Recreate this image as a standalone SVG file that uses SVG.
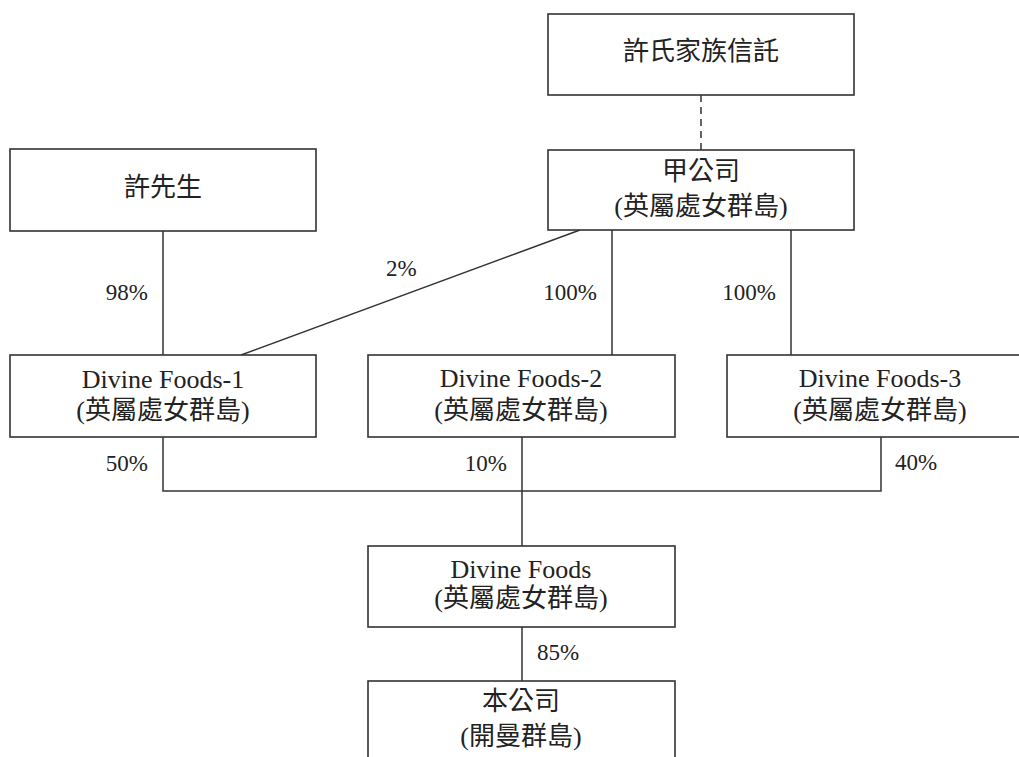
<svg xmlns="http://www.w3.org/2000/svg" width="1019" height="757" viewBox="0 0 1019 757">
<style>
.box{fill:#fff;stroke:#333;stroke-width:1.6}
.ln{fill:none;stroke:#333;stroke-width:1.5}
.dash{stroke-dasharray:7,5}
.t{font-family:"Liberation Serif","Noto Sans CJK TC",serif;font-size:26px;fill:#222;text-anchor:middle}
.p{font-family:"Liberation Serif",serif;font-size:23px;fill:#222}
.e{text-anchor:end}
</style>
<rect width="1019" height="757" fill="#fff"/>
<g id="connectors">
<line class="ln dash" x1="701" y1="95" x2="701" y2="150"/>
<line class="ln" x1="163" y1="231" x2="163" y2="355"/>
<line class="ln" x1="580" y1="230" x2="241" y2="355"/>
<line class="ln" x1="612" y1="230" x2="612" y2="355"/>
<line class="ln" x1="791" y1="230" x2="791" y2="355"/>
<polyline class="ln" points="163,437 163,491 881,491 881,437"/>
<line class="ln" x1="522" y1="437" x2="522" y2="546"/>
<line class="ln" x1="522" y1="627" x2="522" y2="681"/>
<text class="p e" x="148" y="300">98%</text>
<text class="p" x="386" y="276">2%</text>
<text class="p e" x="597" y="300">100%</text>
<text class="p e" x="776" y="300">100%</text>
<text class="p e" x="148" y="471">50%</text>
<text class="p e" x="507" y="471">10%</text>
<text class="p" x="895" y="470">40%</text>
<text class="p" x="537" y="660">85%</text>
</g>
<g id="trust">
<rect class="box" x="548" y="14" width="306" height="81"/>
<text class="t" x="701" y="60">許氏家族信託</text>
</g>
<g id="mrhui">
<rect class="box" x="10" y="149" width="306" height="82"/>
<text class="t" x="163" y="196">許先生</text>
</g>
<g id="companyA">
<rect class="box" x="548" y="150" width="306" height="80"/>
<text class="t" x="701" y="180">甲公司</text>
<text class="t" x="701" y="215">(英屬處女群島)</text>
</g>
<g id="df1">
<rect class="box" x="10" y="355" width="306" height="82"/>
<text class="t" x="163" y="388">Divine Foods-1</text>
<text class="t" x="163" y="419">(英屬處女群島)</text>
</g>
<g id="df2">
<rect class="box" x="368" y="355" width="307" height="82"/>
<text class="t" x="521" y="387">Divine Foods-2</text>
<text class="t" x="521" y="419">(英屬處女群島)</text>
</g>
<g id="df3">
<rect class="box" x="727" y="355" width="307" height="82"/>
<text class="t" x="880" y="387">Divine Foods-3</text>
<text class="t" x="880" y="419">(英屬處女群島)</text>
</g>
<g id="df">
<rect class="box" x="368" y="546" width="307" height="81"/>
<text class="t" x="521" y="578">Divine Foods</text>
<text class="t" x="521" y="607">(英屬處女群島)</text>
</g>
<g id="company">
<rect class="box" x="368" y="681" width="307" height="90"/>
<text class="t" x="521" y="710">本公司</text>
<text class="t" x="521" y="745">(開曼群島)</text>
</g>
</svg>
